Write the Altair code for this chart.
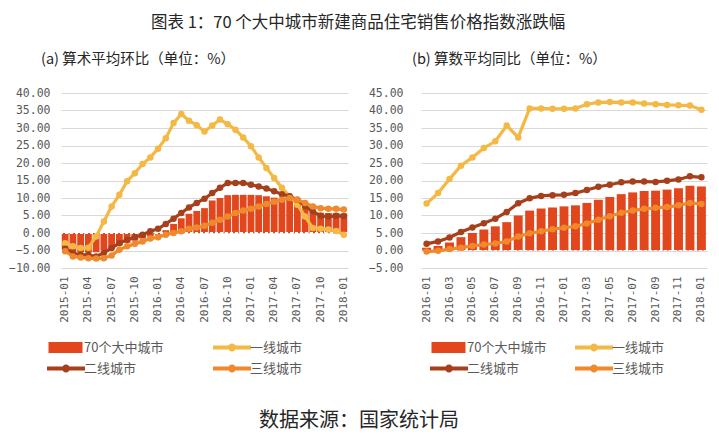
import altair as alt
import pandas as pd

FONT = "Noto Sans CJK SC"
NUM_FONT = "DejaVu Sans Mono"

# ---------------- data ----------------
SERIES = ["70个大中城市", "一线城市", "二线城市", "三线城市"]
COLORS = ["#E2461C", "#F4B844", "#A6401C", "#F0882C"]

MONTHS_A = [f"{y}-{m:02d}" for y in (2015, 2016, 2017) for m in range(1, 13)] + ["2018-01"]
TICKS_A = ["2015-01", "2015-04", "2015-07", "2015-10", "2016-01", "2016-04", "2016-07",
           "2016-10", "2017-01", "2017-04", "2017-07", "2017-10", "2018-01"]
A_CITY70 = [-4.5, -5.2, -5.5, -5.6, -5.5, -5.0, -4.5, -3.5, -2.8, -2.2, -1.6, -1.0, -0.5,
            0.8, 2.6, 4.2, 5.5, 6.3, 7.1, 9.3, 10.0, 10.8, 10.9, 10.9, 10.9, 10.8, 10.5,
            10.1, 9.8, 9.5, 8.1, 6.8, 6.2, 5.8, 5.7, 5.7, 5.6]
A_TIER1 = [-2.9, -3.8, -4.3, -4.2, -1.0, 3.3, 7.6, 10.9, 14.8, 17.1, 19.7, 21.6, 24.1,
           27.1, 31.4, 34.0, 32.1, 30.8, 29.0, 30.7, 32.4, 31.1, 29.5, 27.3, 24.8, 21.6,
           18.6, 15.7, 12.9, 10.5, 8.1, 4.7, 1.4, 1.2, 1.0, 0.6, -0.5]
A_TIER2 = [-4.5, -5.7, -6.2, -6.3, -6.7, -5.7, -4.3, -2.9, -1.9, -1.2, -0.5, 0.5, 1.2,
           2.6, 4.1, 5.7, 7.3, 8.6, 9.8, 11.4, 12.9, 14.3, 14.3, 14.3, 13.8, 13.3, 12.7,
           11.9, 11.1, 10.5, 9.5, 7.6, 6.2, 4.9, 4.7, 4.9, 4.8]
A_TIER3 = [-5.2, -6.7, -7.0, -7.2, -7.3, -7.2, -6.4, -4.8, -3.8, -3.1, -2.4, -1.6, -1.2,
           -0.5, 0.0, 0.5, 1.2, 1.6, 2.1, 2.9, 3.8, 4.7, 5.7, 6.4, 6.9, 7.6, 8.3, 8.9,
           9.5, 10.0, 9.5, 8.6, 7.6, 7.1, 6.9, 6.9, 6.7]

MONTHS_B = [f"{y}-{m:02d}" for y in (2016, 2017) for m in range(1, 13)] + ["2018-01"]
TICKS_B = ["2016-01", "2016-03", "2016-05", "2016-07", "2016-09", "2016-11", "2017-01",
           "2017-03", "2017-05", "2017-07", "2017-09", "2017-11", "2018-01"]
B_CITY70 = [0.8, 1.3, 2.3, 3.8, 5.0, 6.0, 6.9, 8.1, 10.0, 11.4, 12.0, 12.3, 12.6, 12.9,
            13.6, 14.5, 15.3, 16.1, 16.6, 17.0, 17.1, 17.4, 17.8, 18.5, 18.3]
B_TIER1 = [13.4, 16.4, 20.4, 24.2, 26.6, 29.3, 31.2, 35.7, 32.3, 40.6, 40.6, 40.5, 40.5,
           40.6, 41.8, 42.3, 42.4, 42.3, 42.3, 42.0, 41.8, 41.6, 41.5, 41.4, 40.2]
B_TIER2 = [1.9, 2.6, 3.7, 5.3, 6.6, 7.8, 9.1, 11.0, 13.5, 14.9, 15.6, 15.8, 15.9, 16.4,
           17.3, 18.2, 18.8, 19.5, 19.7, 19.7, 19.6, 19.9, 20.3, 21.2, 20.9]
B_TIER3 = [-0.3, -0.1, 0.4, 0.8, 1.3, 1.7, 2.0, 2.6, 4.0, 4.9, 5.5, 6.1, 6.5, 6.9, 7.7,
           8.8, 9.8, 10.8, 11.4, 11.9, 12.2, 12.4, 12.9, 13.6, 13.3]

MAIN_TITLE = "图表 1：70 个大中城市新建商品住宅销售价格指数涨跌幅"
SUB_A = "(a) 算术平均环比（单位：%）"
SUB_B = "(b) 算数平均同比（单位：%）"
SOURCE = ["数据来源：国家统计局"]

# legend swatch shapes (custom symbol paths, unit = 5px at symbolSize 100)
BAR_PATH = "M-1,-1.1H5.8V1.1H-1Z"
LINE_PATH = ("M-1.3,-0.38H6.3V0.38H-1.3Z "
             "M3.3,0A0.8,0.8,0,1,1,1.7,0A0.8,0.8,0,1,1,3.3,0Z")


def make_legend(path, lx, ly):
    return alt.Legend(
        orient="none", legendX=lx, legendY=ly, title=None,
        labelFont=FONT, labelFontSize=13, labelColor="#595959",
        symbolType=path, symbolSize=100, symbolStrokeWidth=0, labelOffset=24,
    )


def panel(months, ticks, series_lists, ydom, width, pad_inner, title, title_dx,
          ylabel_pad, col_x, row_y):
    rows = []
    for name, vals in zip(SERIES, series_lists):
        for m, v in zip(months, vals):
            rows.append({"month": m, "series": name, "value": v})
    df = pd.DataFrame(rows)

    xenc = alt.X("month:N", sort=months,
                 scale=alt.Scale(domain=months, paddingInner=pad_inner, paddingOuter=0.1),
                 axis=alt.Axis(values=ticks, labelAngle=-90, domain=False, ticks=False,
                               grid=False, labelFontSize=11, labelColor="#595959",
                               labelPadding=8, labelFont=NUM_FONT, title=None))
    yscale = alt.Scale(domain=ydom, nice=False, zero=False)
    yaxis = alt.Axis(values=list(range(ydom[0], ydom[1] + 1, 5)), format=".2f",
                     domain=False, ticks=False, grid=True, gridColor="#D9D9D9",
                     gridWidth=1, labelFontSize=11.5, labelColor="#595959",
                     labelFont=NUM_FONT, labelPadding=ylabel_pad, labelOverlap=False,
                     title=None)
    yenc = alt.Y("value:Q", scale=yscale, axis=yaxis)
    positions = [(col_x[0], row_y[0]), (col_x[1], row_y[0]),
                 (col_x[0], row_y[1]), (col_x[1], row_y[1])]

    base = alt.Chart(df)
    layers = [
        base.transform_filter(alt.datum.series == SERIES[0]).mark_bar().encode(
            x=xenc, y=yenc,
            color=alt.Color("series:N",
                            scale=alt.Scale(domain=[SERIES[0]], range=[COLORS[0]]),
                            legend=make_legend(BAR_PATH, *positions[0])),
        ),
        base.mark_rule(color="white", strokeDash=[3, 2], strokeWidth=1,
                       opacity=0.9).encode(y=alt.Y(datum=0, scale=yscale, axis=yaxis)),
    ]
    for i in range(1, 4):
        name, col = SERIES[i], COLORS[i]
        sub = base.transform_filter(alt.datum.series == name)
        layers.append(sub.mark_line(color=col, strokeWidth=3.2).encode(x=xenc, y=yenc))
        layers.append(sub.mark_point(filled=True, size=42, opacity=1).encode(
            x=xenc, y=yenc,
            color=alt.Color("series:N", scale=alt.Scale(domain=[name], range=[col]),
                            legend=make_legend(LINE_PATH, *positions[i])),
        ))
    return alt.layer(*layers).resolve_scale(color="independent").properties(
        width=width, height=175,
        title=alt.TitleParams(title, anchor="start", frame="group", dx=title_dx,
                              fontSize=14.5, font=FONT, fontWeight="normal",
                              color="#262626", offset=20),
    )


left = panel(MONTHS_A, TICKS_A, [A_CITY70, A_TIER1, A_TIER2, A_TIER3], [-10, 40], 287,
             0.12, SUB_A, -20, 11, (-14, 152), (248, 269))
right = panel(MONTHS_B, TICKS_B, [B_CITY70, B_TIER1, B_TIER2, B_TIER3], [-5, 45], 286,
              0.22, SUB_B, -9, 18, (9, 154), (248, 269))

row = alt.hconcat(left, right, spacing=17).resolve_scale(color="independent")

source = alt.Chart(pd.DataFrame({"t": SOURCE})).mark_text(
    fontSize=20, font=FONT, color="#262626").encode(
    text="t:N", x=alt.value(298), y=alt.value(12)).properties(width=600, height=24)

chart = alt.vconcat(row, source, spacing=33).properties(
    title=alt.TitleParams(MAIN_TITLE, anchor="middle", fontSize=16.5, font=FONT,
                          fontWeight="normal", color="#262626", offset=20),
    padding={"left": 0, "top": 7, "right": 0, "bottom": 0},
).configure(font=FONT).configure_view(stroke=None)

chart.save("out.html", embed_options={"renderer": "svg", "actions": False})
